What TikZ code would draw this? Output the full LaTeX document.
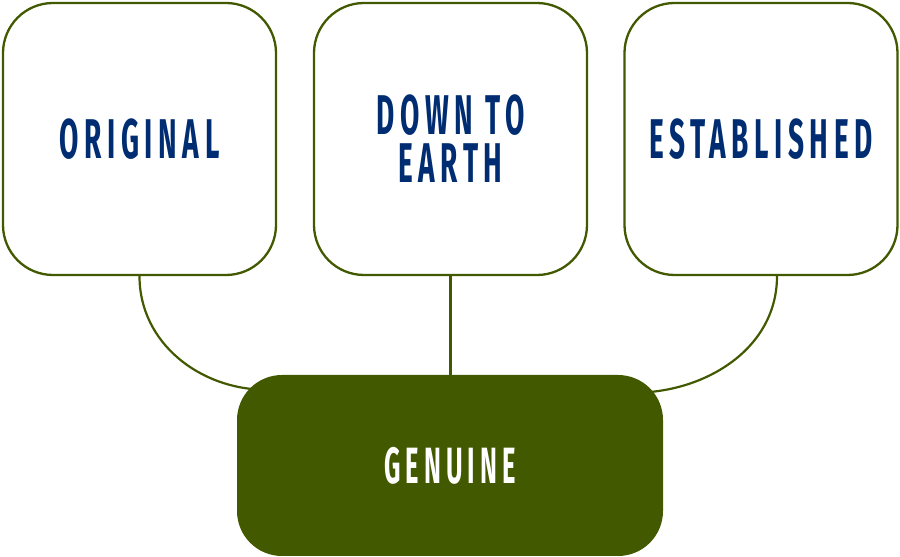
\documentclass[tikz,border=0pt]{standalone}
\usepackage{fontspec}
\usepackage{tikz}
\usetikzlibrary{positioning,backgrounds,calc}
\newfontfamily\boxfont[FakeStretch=0.5,LetterSpace=10]{Fira Sans}
\definecolor{olive}{RGB}{66,89,0}
\definecolor{navy}{RGB}{0,45,114}
\tikzset{
  tb/.style={draw=olive, line width=2.3pt, fill=white, rounded corners=50pt,
    minimum width=273pt, minimum height=272pt, align=center, text=navy,
    font=\boxfont\bfseries\fontsize{56}{48}\selectfont},
  gb/.style={fill=olive, rounded corners=45pt, minimum width=426pt,
    minimum height=181pt, text=white,
    font=\boxfont\bfseries\fontsize{51}{48}\selectfont},
  link/.style={olive, line width=2.2pt}
}
\begin{document}
\begin{tikzpicture}[x=1pt,y=1pt]
  \useasboundingbox (0,0) rectangle (900,557);
  \node[tb] (orig) at (139.5,418) {ORIGINAL};
  \node[tb] (down) at (450.5,418) {DOWN TO\\EARTH};
  \node[tb] (est) at (761,418) {ESTABLISHED};
  \node[gb] (gen) at (450,91.5) {GENUINE};
  \coordinate (gl) at ($(gen.north west)+(30,-15)$);
  \coordinate (gr) at ($(gen.north east)+(-30,-18)$);
  \begin{pgfonlayer}{background}
    \draw[link] (orig.south) to[out=-90,in=180] (gl);
    \draw[link] (down.south) -- (down.south |- gen.north);
    \draw[link] ([xshift=16pt]est.south) to[out=-90,in=0] (gr);
  \end{pgfonlayer}
\end{tikzpicture}
\end{document}
